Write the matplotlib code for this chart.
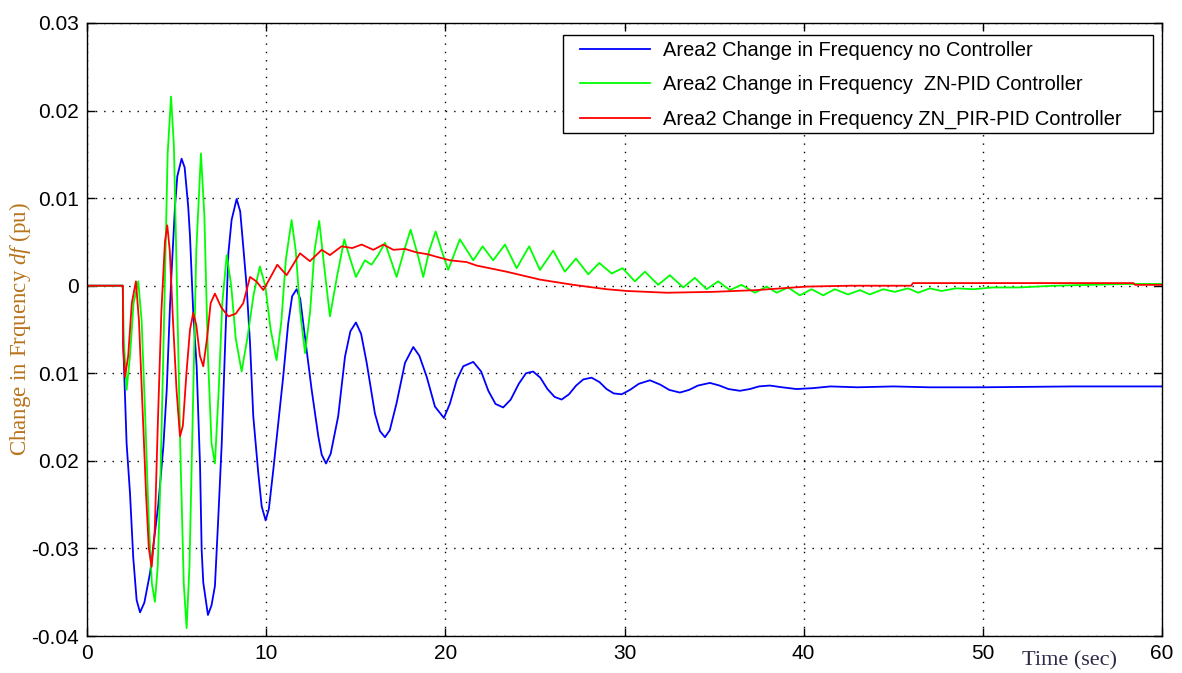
import matplotlib.pyplot as plt
from matplotlib.patches import Rectangle

plt.rcParams['mathtext.fontset'] = 'custom'
plt.rcParams['mathtext.rm'] = 'Liberation Serif'
plt.rcParams['mathtext.it'] = 'Liberation Serif:italic'

# --- data (time in s, df in pu) ---
t_no = [0, 2.0, 2.02, 2.21, 2.40, 2.58, 2.77, 2.96, 3.2, 3.52, 3.98, 4.26, 4.45, 4.63, 4.72,
        4.91, 5.04, 5.28, 5.45, 5.65, 5.75, 5.93, 6.12, 6.31, 6.40, 6.49, 6.75, 6.95, 7.14,
        7.33, 7.52, 7.70, 7.89, 8.07, 8.35, 8.55, 8.72, 8.91, 9.10, 9.28, 9.56, 9.75, 9.97,
        10.15, 10.40, 10.95, 11.23, 11.45, 11.70, 11.90, 12.07, 12.54, 12.91, 13.10, 13.34,
        13.60, 14.02, 14.40, 14.70, 15.01, 15.30, 15.61, 16.07, 16.35, 16.63, 16.90, 17.28,
        17.75, 18.21, 18.55, 18.96, 19.42, 19.92, 20.25, 20.63, 21.0, 21.56, 22.0, 22.4, 22.8,
        23.23, 23.65, 24.1, 24.5, 24.9, 25.3, 25.7, 26.1, 26.49, 26.9, 27.3, 27.7, 28.16,
        28.6, 29.0, 29.4, 29.84, 30.3, 30.8, 31.42, 32.0, 32.5, 33.09, 33.6, 34.1, 34.77,
        35.3, 35.8, 36.44, 37.0, 37.5, 38.11, 38.8, 39.6, 40.5, 41.5, 43, 45, 47, 50, 55, 60]
df_no = [0, 0, -0.0065, -0.018, -0.0237, -0.031, -0.0359, -0.0373, -0.0362, -0.0328, -0.025,
         -0.0184, -0.0119, -0.0024, 0.0015, 0.009, 0.0125, 0.0145, 0.0135, 0.009, 0.0056,
         -0.0031, -0.0092, -0.0206, -0.0302, -0.0339, -0.0376, -0.0365, -0.0343, -0.0264,
         -0.018, -0.0073, 0.0037, 0.0075, 0.0099, 0.0085, 0.0045, -0.0001, -0.0066, -0.0149,
         -0.0214, -0.0252, -0.0268, -0.0255, -0.021, -0.0104, -0.0043, -0.0012, -0.0004,
         -0.0015, -0.0043, -0.0119, -0.0172, -0.0193, -0.0203, -0.0192, -0.0149, -0.0081,
         -0.0052, -0.0042, -0.0055, -0.0088, -0.0146, -0.0166, -0.0173, -0.0165, -0.0134,
         -0.0088, -0.0070, -0.0080, -0.0104, -0.0138, -0.0151, -0.0135, -0.0108, -0.0092,
         -0.0087, -0.0098, -0.0120, -0.0135, -0.0139, -0.0130, -0.0112, -0.0100, -0.0098,
         -0.0105, -0.0118, -0.0127, -0.0130, -0.0124, -0.0114, -0.0107, -0.0105, -0.0110,
         -0.0118, -0.0123, -0.0124, -0.0119, -0.0112, -0.0108, -0.0113, -0.0119, -0.0122,
         -0.0119, -0.0114, -0.0111, -0.0114, -0.0118, -0.0120, -0.0118, -0.0115, -0.0114,
         -0.0116, -0.0118, -0.0117, -0.0115, -0.0116, -0.0115, -0.0116, -0.0116, -0.0115,
         -0.0115]

t_zn = [0, 2.0, 2.05, 2.21, 2.4, 2.6, 2.86, 3.05, 3.25, 3.45, 3.62, 3.79, 3.95, 4.1, 4.3, 4.5,
        4.69, 4.85, 5.0, 5.2, 5.4, 5.56, 5.72, 5.9, 6.1, 6.36, 6.55, 6.75, 6.95, 7.14, 7.35,
        7.55, 7.80, 8.05, 8.3, 8.63, 8.95, 9.3, 9.65, 9.95, 10.25, 10.58, 10.85, 11.1, 11.42,
        11.65, 11.9, 12.17, 12.45, 12.7, 12.96, 13.25, 13.56, 13.95, 14.36, 14.7, 15.01,
        15.51, 15.88, 16.25, 16.63, 16.95, 17.28, 17.7, 18.06, 18.4, 18.77, 19.1, 19.46, 19.8,
        20.16, 20.81, 21.56, 22.08, 22.67, 23.33, 23.98, 24.68, 25.28, 26.02, 26.67, 27.29,
        27.98, 28.59, 29.28, 29.89, 30.58, 31.14, 31.88, 32.53, 33.28, 33.93, 34.58, 35.23,
        35.88, 36.53, 37.28, 37.93, 38.49, 39.13, 39.79, 40.44, 41.09, 41.74, 42.48, 43.14,
        43.69, 44.44, 45.09, 45.83, 46.39, 47.04, 47.69, 48.5, 49.5, 50.5, 52, 54, 56, 58, 60]
df_zn = [0, 0, -0.006, -0.0119, -0.008, -0.002, 0.0005, -0.004, -0.015, -0.027, -0.034,
         -0.0361, -0.032, -0.022, -0.004, 0.015, 0.0216, 0.016, 0.002, -0.018, -0.034, -0.0391,
         -0.032, -0.015, 0.004, 0.0151, 0.008, -0.008, -0.018, -0.0203, -0.012, -0.002, 0.0035,
         0.0, -0.006, -0.0098, -0.006, -0.001, 0.0022, 0.0, -0.005, -0.0085, -0.004, 0.003,
         0.0075, 0.004, -0.003, -0.0077, -0.003, 0.004, 0.0074, 0.002, -0.0035, 0.001, 0.0053,
         0.003, 0.001, 0.0029, 0.0024, 0.0035, 0.0049, 0.003, 0.001, 0.004, 0.0064, 0.004,
         0.0010, 0.004, 0.0062, 0.004, 0.0018, 0.0053, 0.0029, 0.0045, 0.0029, 0.0047, 0.002,
         0.0045, 0.0018, 0.0040, 0.0016, 0.0031, 0.0013, 0.0026, 0.0014, 0.0020, 0.0005,
         0.0016, 0.0001, 0.0012, -0.0002, 0.0009, -0.0004, 0.0005, -0.0005, 0.0001, -0.0008,
         -0.0001, -0.0008, -0.0002, -0.0011, -0.0004, -0.0011, -0.0004, -0.0010, -0.0005,
         -0.0010, -0.0004, -0.0007, -0.0003, -0.0008, -0.0003, -0.0006, -0.0003, -0.0004,
         -0.0002, -0.0002, 0.0, 0.0001, 0.0002, 0.0002]

t_pir = [0, 2.0, 2.02, 2.12, 2.3, 2.5, 2.73, 2.9, 3.1, 3.3, 3.45, 3.61, 3.78, 3.95, 4.15, 4.35,
         4.48, 4.62, 4.8, 5.0, 5.19, 5.35, 5.55, 5.75, 5.93, 6.1, 6.3, 6.49, 6.7, 6.9, 7.14,
         7.5, 7.89, 8.3, 8.72, 9.1, 9.45, 9.84, 10.25, 10.62, 11.14, 11.89, 12.44, 13.1, 13.56,
         14.21, 14.8, 15.33, 15.98, 16.54, 17.1, 17.75, 18.4, 19.0, 19.51, 20.26, 21.19, 21.75,
         23.42, 25.28, 27.14, 29.0, 30.12, 32.35, 34.95, 37.37, 40.16, 42.6, 46.0, 46.1, 58.4,
         58.5, 60]
df_pir = [0, 0, -0.007, -0.0104, -0.008, -0.002, 0.0005, -0.004, -0.014, -0.024, -0.030,
          -0.0321, -0.028, -0.016, -0.003, 0.005, 0.0069, 0.004, -0.004, -0.012, -0.0172,
          -0.016, -0.010, -0.005, -0.0031, -0.0045, -0.008, -0.0092, -0.006, -0.002, -0.0009,
          -0.0025, -0.0035, -0.0032, -0.002, 0.001, 0.0005, -0.0005, 0.001, 0.0024, 0.0012,
          0.0037, 0.0028, 0.0041, 0.0035, 0.0045, 0.0043, 0.0047, 0.0041, 0.0047, 0.0041,
          0.0042, 0.0038, 0.0036, 0.0033, 0.0029, 0.0027, 0.0023, 0.0016, 0.0007, 0.0001,
          -0.0004, -0.0006, -0.0008, -0.0007, -0.0005, -0.0001, 0.0, 0.0, 0.0003, 0.0003,
          0.0001, 0.0001]

labels = ['Area2 Change in Frequency no Controller',
          'Area2 Change in Frequency  ZN-PID Controller',
          'Area2 Change in Frequency ZN_PIR-PID Controller']

yticks = [-0.04, -0.03, -0.02, -0.01, 0, 0.01, 0.02, 0.03]
# the reference drops the minus sign on two of the labels
ytick_labels = ['-0.04', '-0.03', '0.02', '0.01', '0', '0.01', '0.02', '0.03']
xticks = [0, 10, 20, 30, 40, 50, 60]

fig = plt.figure(figsize=(11.82, 6.73), dpi=100)
ax = fig.add_axes([87 / 1182, 37 / 673, 1075 / 1182, 613 / 673])

ax.plot(t_no, df_no, color='#0000ff', lw=1.3, label=labels[0])
ax.plot(t_zn, df_zn, color='#00ff00', lw=1.3, label=labels[1])
ax.plot(t_pir, df_pir, color='#ff0000', lw=1.3, label=labels[2])

ax.set_xlim(0, 60)
ax.set_ylim(-0.04, 0.03)
ax.set_xticks(xticks)
ax.set_xticklabels([str(x) for x in xticks])
ax.set_yticks(yticks)
ax.set_yticklabels(ytick_labels)
ax.tick_params(direction='in', length=6, width=1, top=True, right=True,
               labelsize=15, pad=6)
for lab in ax.get_xticklabels() + ax.get_yticklabels():
    lab.set_family('Liberation Sans')
for s in ax.spines.values():
    s.set_linewidth(1.0)

ax.grid(True, color='black', linestyle=(0, (1, 5)), linewidth=1.0)

# legend box drawn separately: the original has wide side margins, tight top/bottom
ax.add_patch(Rectangle((0.4428, 0.8206), 0.5488, 0.1598, transform=ax.transAxes,
                       facecolor='white', edgecolor='black', lw=1.0, zorder=4))
leg = ax.legend(loc='center left', bbox_to_anchor=(0.4586, 0.8989), borderaxespad=0,
                frameon=False, prop={'family': 'Liberation Sans', 'size': 14.4},
                handlelength=3.5, labelspacing=0.76, handletextpad=0.65,
                borderpad=0)
leg.set_zorder(5)

fig.text(0.017, 1 - 329 / 673, r'Change in Frquency $\mathit{df}$ (pu)',
         rotation=90, ha='center', va='center', fontsize=16.5,
         family='Liberation Serif', color='#b8741c')
fig.text(1069 / 1182, 1 - 661 / 673, 'Time (sec)', ha='center', va='center',
         fontsize=16, family='Liberation Serif', color='#302848')

fig.savefig('out.png', dpi=100, facecolor='white')
